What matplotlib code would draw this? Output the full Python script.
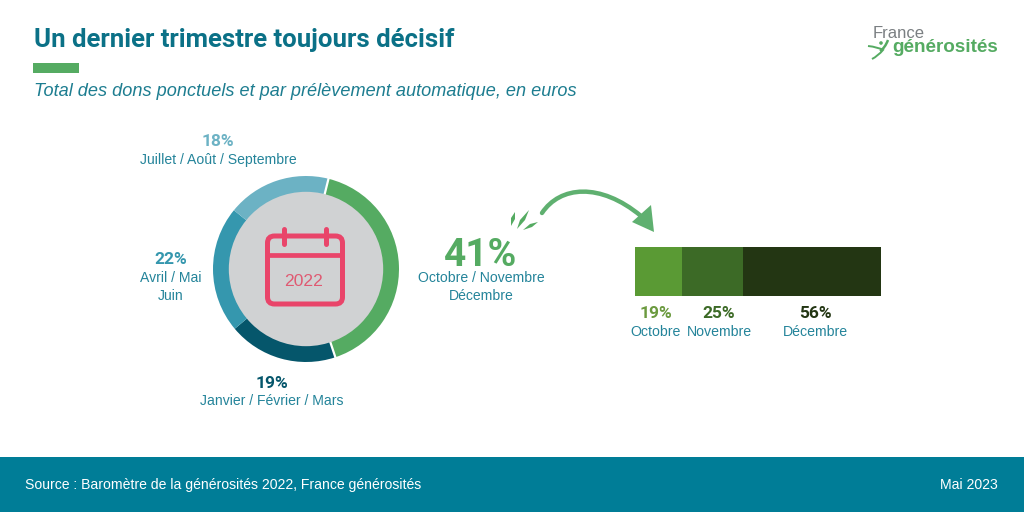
import matplotlib
matplotlib.use("Agg")
import matplotlib.pyplot as plt
from math import cos, sin, radians
from matplotlib.patches import Rectangle, FancyBboxPatch, Circle, PathPatch, Polygon
from matplotlib.path import Path

# Donnees du graphique
periodes = ["Octobre / Novembre\nDécembre", "Janvier / Février / Mars", "Avril / Mai\nJuin", "Juillet / Août / Septembre"]
parts = [41, 19, 22, 18]
couleurs_parts = ["#55ab62", "#05566b", "#3597ae", "#6cb2c4"]

mois = ["Octobre", "Novembre", "Décembre"]
parts_mois = [19, 25, 56]
couleurs_mois = ["#5a9a34", "#3c6a26", "#233613"]

TEAL = "#24849a"
VERT = "#55ab62"
narrow = "Roboto"
sans = "Liberation Sans"

fig = plt.figure(figsize=(10.24, 5.12), dpi=100)

# Axe de fond en pixels pour le texte et les decors
bg = fig.add_axes([0, 0, 1, 1])
bg.set_xlim(0, 1024)
bg.set_ylim(512, 0)
bg.axis("off")


def inset(x0, y0, x1, y1):
    return fig.add_axes([x0 / 1024, 1 - y1 / 512, (x1 - x0) / 1024, (y1 - y0) / 512])


# Entete
bg.text(34, 40, "Un dernier trimestre toujours décisif", fontsize=18.5, family=narrow,
        weight="bold", color="#0b7187", va="center", ha="left")
bg.add_patch(Rectangle((33, 63), 46, 10, color=VERT, lw=0))
bg.text(34, 91.5, "Total des dons ponctuels et par prélèvement automatique, en euros",
        fontsize=13.1, family=sans, style="italic", color="#1d7d90", va="center", ha="left")

# Logo
bg.text(873, 33, "France", fontsize=12, family=sans, color="#7a7f82", va="center", ha="left")
bg.text(892, 48, "générosités", fontsize=13.6, family=sans, weight="bold", color=VERT, va="center", ha="left")
bg.add_patch(PathPatch(Path([(868, 46), (878, 47), (883, 50), (878, 56), (872, 59)],
                            [Path.MOVETO, Path.CURVE3, Path.CURVE3, Path.CURVE3, Path.CURVE3]),
                       fc="none", ec=VERT, lw=1.4))
bg.add_patch(PathPatch(Path([(880, 51), (885, 48), (888, 40)],
                            [Path.MOVETO, Path.CURVE3, Path.CURVE3]), fc="none", ec=VERT, lw=1.8))
bg.add_patch(Circle((881, 43), 1.8, color=VERT, lw=0))

# Anneau
ax_pie = inset(213, 176, 399, 362)
ax_pie.pie(parts, colors=couleurs_parts, startangle=76, counterclock=False, radius=1,
           wedgeprops=dict(width=0.4, linewidth=0))
ax_pie.set_xlim(-1, 1)
ax_pie.set_ylim(-1, 1)
ax_pie.set_aspect("equal")
# trait blanc entre le vert et le reste
for a in (76, 76 - 0.41 * 360):
    ax_pie.plot([0.8 * cos(radians(a)), 1.02 * cos(radians(a))],
                [0.8 * sin(radians(a)), 1.02 * sin(radians(a))], color="white", lw=1.6, solid_capstyle="butt")
ax_pie.add_patch(Circle((0, 0), 0.83, color="#d0d2d3", lw=0, zorder=5))

# Calendrier
ROSE = "#e9456a"
bg.set_zorder(3)
bg.add_patch(FancyBboxPatch((267.5, 236), 75, 68, boxstyle="round,pad=0,rounding_size=7",
                            fc="none", ec=ROSE, lw=3.6))
bg.plot([266, 344], [255, 255], color=ROSE, lw=3.4, solid_capstyle="butt")
bg.plot([284, 284], [229, 244], color=ROSE, lw=3.6, solid_capstyle="round")
bg.plot([326, 326], [229, 244], color=ROSE, lw=3.6, solid_capstyle="round")
bg.text(304, 281, "2022", fontsize=12.6, family=sans, color="#df5a72", va="center", ha="center")


# Etiquettes de l'anneau
def etiquette(x, y_pct, y_lab, pct, lab, col_pct, size=12.5):
    bg.text(x, y_pct, f"{pct}%", fontsize=size, family=narrow, weight="bold", color=col_pct, va="center", ha="center")
    bg.text(x, y_lab, lab, fontsize=10.1, family=sans, color=TEAL, va="center", ha="center", linespacing=1.4)


etiquette(218, 142, 160, parts[3], periodes[3], "#6cb2c4")
etiquette(171, 260, 287, parts[2], periodes[2], "#3597ae")
etiquette(272, 383, 401, parts[1], periodes[1], "#05566b")
etiquette(481, 255, 287, parts[0], periodes[0], VERT, size=28)

# Fleche
fleche = Path([(542, 213), (560, 186), (600, 182), (641, 216)],
              [Path.MOVETO, Path.CURVE4, Path.CURVE4, Path.CURVE4])
bg.add_patch(PathPatch(fleche, fc="none", ec="#5fb070", lw=3.2, capstyle="round"))
bg.add_patch(Polygon([(654, 232), (632, 222), (651, 205)], closed=True, color="#5fb070", lw=0))

# petits traits autour du 41%
for p in ([(511, 226), (511, 218), (515, 212), (515, 219)],
          [(517, 229), (520, 220), (529, 210), (525, 220)],
          [(523, 230), (530, 224), (538, 222), (532, 227)]):
    bg.add_patch(Polygon(p, closed=True, color=VERT, lw=0))

# Barre empilee
ax_bar = inset(635, 247, 881, 296)
gauche = 0
for val, coul in zip(parts_mois, couleurs_mois):
    ax_bar.barh([0], [val], left=gauche, height=1, color=coul, lw=0)
    gauche += val
ax_bar.set_xlim(0, 100)
ax_bar.set_ylim(-0.5, 0.5)
ax_bar.axis("off")

for x, val, nom, coul in zip([656, 719, 815], parts_mois, mois, ["#6b9a3f", "#3c6a26", "#233613"]):
    bg.text(x, 314, f"{val}%", fontsize=12.5, family=narrow, weight="bold", color=coul, va="center", ha="center")
    bg.text(x, 331.5, nom, fontsize=10.2, family=sans, color=TEAL, va="center", ha="center")

# Pied de page
bg.add_patch(Rectangle((0, 457), 1024, 55, color="#007d97", lw=0))
bg.text(25, 485, "Source : Baromètre de la générosités 2022, France générosités", fontsize=10.1,
        family=sans, color="white", va="center", ha="left")
bg.text(998, 485, "Mai 2023", fontsize=10.1, family=sans, color="white", va="center", ha="right")

fig.savefig("out.png", dpi=100)
